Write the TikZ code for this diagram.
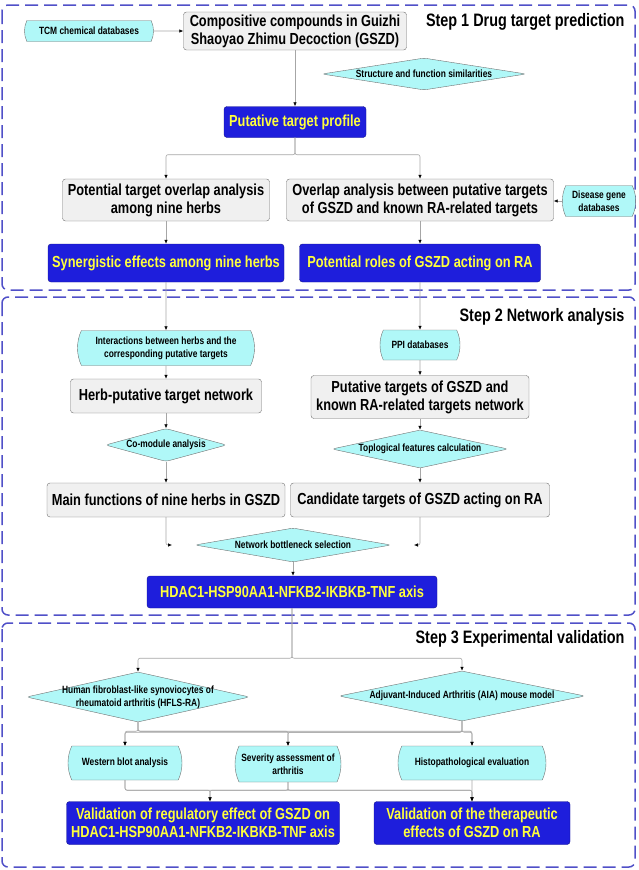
\documentclass[tikz,border=0pt]{standalone}
\usepackage{fontspec}
\setmainfont{Liberation Sans}[FakeStretch=0.8]
\usetikzlibrary{shapes.geometric,shapes.misc,arrows.meta}
\definecolor{stepblue}{HTML}{5050C8}
\definecolor{boxgray}{HTML}{F0F0F0}
\definecolor{boxline}{HTML}{707070}
\definecolor{deepblue}{HTML}{1E1EDC}
\definecolor{deepline}{HTML}{14148C}
\definecolor{txtyellow}{HTML}{FFFF3C}
\definecolor{lightcyan}{HTML}{B0F8F8}

\begin{document}
\begin{tikzpicture}[x=1pt,y=-1pt,
    stepframe/.style={draw=stepblue, line width=1.5pt, dash pattern=on 13pt off 6pt, rounded corners=6pt},
    steplabel/.style={anchor=east, font=\bfseries\fontsize{18}{20}\selectfont},
    graybox/.style={draw=boxline, fill=boxgray, rounded corners=3pt, align=center, inner sep=2pt, font=\bfseries\fontsize{16}{18}\selectfont},
    bluebox/.style={draw=deepline, fill=deepblue, text=txtyellow, rounded corners=3pt, align=center, inner sep=2pt, font=\bfseries\fontsize{16}{18}\selectfont},
    database/.style={rounded rectangle, rounded rectangle arc length=50, draw=boxline, fill=lightcyan, align=center, inner sep=1pt, font=\bfseries\fontsize{10.5}{13}\selectfont},
    method/.style={diamond, draw=boxline, fill=lightcyan, rounded corners=3pt, align=center, inner sep=-3pt, font=\bfseries\fontsize{10.5}{13}\selectfont},
    conn/.style={draw=gray!70, line width=0.6pt, rounded corners=2pt, -{Latex[length=4pt,width=3.5pt,black]}}]
    \useasboundingbox (0,0) rectangle (638,870);

    % Step 1 Drug target prediction
    \draw[stepframe] (2,5) rectangle (635,290);
    \node[steplabel] (title1) at (628,22) {Step 1 Drug target prediction};
    \node[database, minimum width=131pt, minimum height=21pt] (tcm) at (89,31) {TCM chemical databases};
    \node[graybox, minimum width=223pt, minimum height=38pt] (comp) at (295,31) {Compositive compounds in Guizhi\\Shaoyao Zhimu Decoction (GSZD)};
    \node[method, aspect=6.4, minimum width=204pt, minimum height=32pt] (simil) at (424,74) {Structure and function similarities};
    \node[bluebox, minimum width=142pt, minimum height=31pt] (profile) at (295,122) {Putative target profile};
    \node[graybox, minimum width=207pt, minimum height=42pt] (herbolap) at (166,200) {Potential target overlap analysis\\among nine herbs};
    \node[graybox, minimum width=267pt, minimum height=42pt] (raolap) at (420,200) {Overlap analysis between putative targets\\of GSZD and known RA-related targets};
    \node[database, minimum width=68pt, minimum height=31pt] (disease) at (599,201) {Disease gene\\databases};
    \node[bluebox, minimum width=236pt, minimum height=38pt] (synergy) at (166,263) {Synergistic effects among nine herbs};
    \node[bluebox, minimum width=241pt, minimum height=38pt] (roles) at (420,263) {Potential roles of GSZD acting on RA};

    \draw[conn] (tcm) -- (comp);
    \draw[conn] (comp) -- (profile);
    \draw[conn] (profile.south) -- ++(0,17) -| (herbolap.north);
    \draw[conn] (profile.south) -- ++(0,17) -| (raolap.north);
    \draw[conn] (disease.west) -- (disease.west -| raolap.east);
    \draw[conn] (herbolap) -- (synergy);
    \draw[conn] (raolap) -- (roles);

    % Step 2 Network analysis
    \draw[stepframe] (2,297) rectangle (635,615);
    \node[steplabel] (title2) at (628,317) {Step 2 Network analysis};
    \node[database, minimum width=179pt, minimum height=35pt] (interact) at (166,348) {Interactions between herbs and the\\corresponding putative targets};
    \node[database, minimum width=82pt, minimum height=30pt] (ppi) at (420,345) {PPI databases};
    \node[graybox, minimum width=191pt, minimum height=34pt] (herbnet) at (166,396) {Herb-putative target network};
    \node[graybox, minimum width=218pt, minimum height=43pt] (ranet) at (420,397) {Putative targets of GSZD and\\known RA-related targets network};
    \node[method, aspect=3.7, minimum width=121pt, minimum height=33pt] (comodule) at (166,445) {Co-module analysis};
    \node[method, aspect=4.6, minimum width=176pt, minimum height=38pt] (topology) at (420,449) {Toplogical features calculation};
    \node[graybox, minimum width=238pt, minimum height=34pt] (mainfun) at (166,500) {Main functions of nine herbs in GSZD};
    \node[graybox, minimum width=259pt, minimum height=34pt] (candidate) at (420,500) {Candidate targets of GSZD acting on RA};
    \node[method, aspect=5.8, minimum width=196pt, minimum height=34pt] (bottleneck) at (293,545) {Network bottleneck selection};
    \node[bluebox, minimum width=290pt, minimum height=32pt] (axis) at (292,592) {HDAC1-HSP90AA1-NFKB2-IKBKB-TNF axis};
    \coordinate (leftend) at (172,545);
    \coordinate (rightend) at (414,545);

    \draw[conn] (synergy) -- (interact);
    \draw[conn] (roles) -- (ppi);
    \draw[conn] (interact) -- (herbnet);
    \draw[conn] (ppi) -- (ranet);
    \draw[conn] (herbnet) -- (comodule);
    \draw[conn] (ranet) -- (topology);
    \draw[conn] (comodule) -- (mainfun);
    \draw[conn] (topology) -- (candidate);
    \draw[conn] (mainfun.south) |- (leftend);
    \draw[conn] (candidate.south) |- (rightend);
    \draw[conn] (bottleneck.south) -- (bottleneck.south |- axis.north);

    % Step 3 Experimental validation
    \draw[stepframe] (2,623) rectangle (635,867);
    \node[steplabel] (title3) at (628,639) {Step 3 Experimental validation};
    \node[method, aspect=4.5, minimum width=223pt, minimum height=50pt] (hfls) at (138,697) {Human fibroblast-like synoviocytes of\\rheumatoid arthritis (HFLS-RA)};
    \node[method, aspect=4.9, minimum width=246pt, minimum height=50pt] (aia) at (462,696) {Adjuvant-Induced Arthritis (AIA) mouse model};
    \node[database, minimum width=116pt, minimum height=34pt] (western) at (125,763) {Western blot analysis};
    \node[database, minimum width=108pt, minimum height=36pt] (severity) at (288,764) {Severity assessment of\\arthritis};
    \node[database, minimum width=150pt, minimum height=34pt] (histo) at (472,763) {Histopathological evaluation};
    \node[bluebox, minimum width=273pt, minimum height=43pt] (valaxis) at (203,823) {Validation of regulatory effect of GSZD on\\HDAC1-HSP90AA1-NFKB2-IKBKB-TNF axis};
    \node[bluebox, minimum width=196pt, minimum height=43pt] (valra) at (472,823) {Validation of the therapeutic\\effects of GSZD on RA};

    \draw[conn] (axis.south) -- ++(0,50) -| (hfls.north);
    \draw[conn] (axis.south) -- ++(0,50) -| (aia.north);
    \draw[conn] (hfls.south) -- ++(0,9) -| (western.north);
    \draw[conn] (hfls.south) -- ++(0,9) -| (severity.north);
    \draw[conn] (hfls.south) -- ++(0,9) -| (histo.north);
    \draw[conn] (aia.south) -- ++(0,11) -| (western.north);
    \draw[conn] (aia.south) -- ++(0,11) -| (severity.north);
    \draw[conn] (aia.south) -- ++(0,11) -| (histo.north);
    \draw[conn] (western.south) -- ++(0,10) -| ([xshift=7pt]valaxis.north);
    \draw[conn] (western.south) -- ++(0,10) -| (valra.north);
    \draw[conn] (severity.south) -- ++(0,8) -| ([xshift=7pt]valaxis.north);
    \draw[conn] (severity.south) -- ++(0,8) -| (valra.north);
    \draw[conn] (histo) -- (valra);
\end{tikzpicture}
\end{document}
